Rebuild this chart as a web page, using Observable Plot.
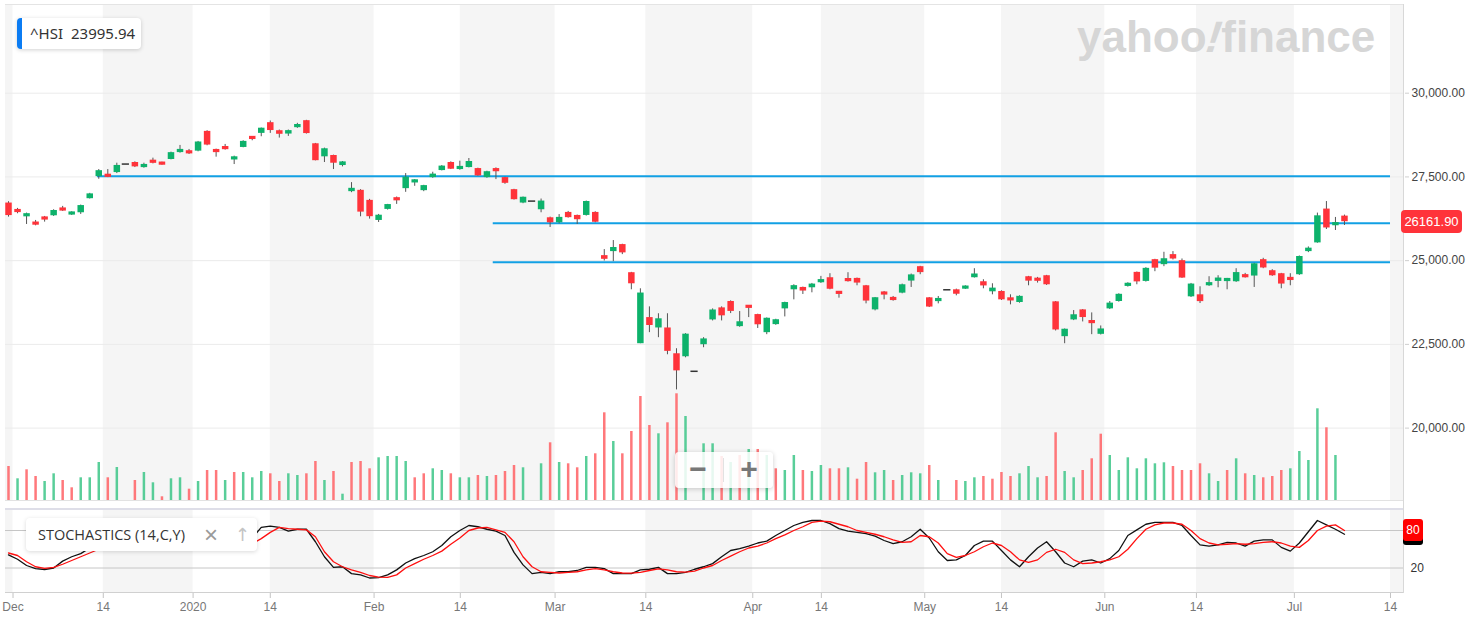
<!DOCTYPE html>
<html><head><meta charset="utf-8">
<script src="https://cdn.jsdelivr.net/npm/d3@7"></script>
<script src="https://cdn.jsdelivr.net/npm/@observablehq/plot@0.6"></script>
<style>
body{margin:0;background:#fff;}
#chart{position:relative;width:1473px;height:627px;overflow:hidden;font-family:"Liberation Sans",Arial,sans-serif;background:#fff;}
#chart svg{position:absolute;left:0;top:0;max-width:none;}
.ov{position:absolute;box-sizing:border-box;}
</style></head><body><div id="chart"></div>
<script>
// ---- data (trading-day index 0 = 29 Nov 2019 ... 148 = 9 Jul 2020); null open/high/low = missing bar
const open = [26720,26520,26320,26150,26300,26340,26560,26380,26430,26850,
27510,27560,27630,null,27930,27780,28000,27930,28020,28230,
28280,28270,28860,28320,28400,28020,28380,28690,28800,29120,
28880,28780,28980,29180,28490,28100,28140,27840,27060,27100,
26800,26200,26530,26880,27150,27330,27090,27480,27690,27930,
27720,27780,27750,27480,27750,27480,27120,26720,null,26520,
26280,26130,26440,26350,26350,26440,25150,25270,25480,24640,
22520,23300,22990,22990,22220,22130,null,22490,23230,23590,
23780,23030,23640,23390,22850,23090,23560,24130,24200,24190,
24340,24490,24070,24460,24470,24250,23530,24060,23880,24030,
24390,24820,23890,23780,null,24130,24160,24490,24370,24070,
24080,23890,23750,24520,24460,24550,23770,22730,23230,23530,
23200,22800,23560,23780,24230,24650,24380,25030,24880,25180,
25000,23920,23980,24250,24380,24380,24370,24560,24540,25030,
24700,24610,24480,24580,25270,25530,26540,26050,26330];
const high = [26760,26560,26420,26200,26320,26520,26620,26460,26660,27010,
27720,27720,27910,null,27950,27910,28060,27940,28240,28440,
28320,28560,28880,28330,28470,28120,28580,28700,28960,29170,
28900,28900,29100,29190,28500,28360,28150,27960,27330,27120,
26830,26380,26680,26900,27600,27420,27250,27640,27840,27950,
27970,28050,27760,27670,27770,27490,27130,26900,null,26840,
26300,26376,26470,26360,26780,26460,25330,25600,25490,24650,
24160,23620,23414,23414,22370,22820,null,22700,23560,23620,
23800,23480,23660,23400,23290,23250,23760,24280,24210,24320,
24530,24610,24080,24640,24480,24260,23900,24080,23930,24300,
24600,24830,23900,23930,null,24150,24250,24760,24430,24310,
24100,23980,23950,24530,24500,24560,23780,22960,23510,23540,
23440,23050,23780,24010,24340,24660,24790,25040,25250,25270,
25050,24320,24220,24520,24550,24470,24760,24620,24920,25070,
24730,24620,24610,25140,25410,26420,26765,26290,26360];
const low = [26300,26400,26080,26040,26150,26320,26470,26350,26380,26840,
27430,27480,27600,null,27780,27760,27890,27850,28010,28210,
28170,28250,28430,28090,28300,27870,28370,28580,28700,28800,
28660,28710,28950,28780,27980,27930,27720,27800,27030,26310,
26240,26140,26510,26680,27040,27220,27060,27460,27680,27720,
27700,27770,27520,27460,27420,27280,26810,26700,null,26430,
25990,26100,26270,26080,26330,26130,24990,24970,25180,24130,
22520,22850,22700,22190,21140,22100,null,22400,23200,23200,
23420,23010,23300,22975,22790,23070,23320,23830,23990,24040,
24320,24130,23880,24360,24250,23710,23500,23830,23790,24010,
24200,24580,23600,23710,null,23950,24140,24480,24160,23980,
23810,23680,23730,24250,24330,24260,22900,22520,23210,23170,
22790,22780,23540,23760,24210,24280,24360,24670,24820,25020,
24470,23900,23720,24230,24190,24130,24350,24480,24200,24760,
24530,24160,24250,24560,25240,25520,25930,25900,26050];
const close = [26346,26444,26391,26062,26218,26498,26494,26436,26645,26994,
27687,27508,27843,27884,27800,27871,27906,27864,28225,28319,
28190,28543,28451,28226,28322,28087,28561,28638,28955,28885,
28773,28883,29056,28795,27985,28341,27909,27949,27160,26449,
26313,26357,26675,26786,27493,27404,27241,27584,27823,27730,
27815,27960,27530,27656,27655,27309,26820,26893,26778,26779,
26130,26292,26284,26222,26767,26146,25040,25392,25232,24309,
24033,23064,23264,22291,21709,22805,21696,22663,23527,23352,
23484,23175,23603,23085,23280,23236,23749,24254,24092,24300,
24435,24146,24006,24380,24330,23793,23893,23977,23831,24280,
24575,24643,23614,23868,24130,23997,24230,24602,24245,24180,
23830,23797,23934,24388,24400,24280,22930,22952,23384,23301,
23132,22961,23732,23995,24325,24366,24770,24776,25057,25049,
24480,24301,23777,24344,24481,24464,24644,24511,24907,24781,
24549,24301,24427,25124,25373,26339,25976,26129,26161.9];
const prevClose = 26894; // close before the first bar
const volume = [1360,868,1228,960,760,1068,800,508,908,908,
1520,908,1320,null,800,1120,708,148,868,908,
452,760,1200,1200,800,1120,1120,908,1160,1068,
760,1068,1000,1068,1560,800,1160,252,1520,1560,
1268,1708,1760,1760,1560,908,1068,1268,1200,1068,
908,908,1000,960,1000,1160,1400,1308,null,1468,
2308,1520,1468,1308,1760,1868,3508,2360,1868,2760,
4160,3000,2668,3108,4268,3360,null,2268,2268,1760,
1520,1800,2040,2040,1800,1268,1200,1800,1200,1160,
1400,1268,1268,1308,852,1520,1108,1200,800,1000,
1108,1068,1400,800,null,800,760,908,960,852,
1120,960,1068,1360,908,960,2708,1160,908,1200,
1668,2652,1800,1200,1708,1268,1668,1468,1508,1360,
1200,1200,1468,1068,760,1200,1668,1068,1000,908,
960,1200,1268,1960,1600,3668,2908,1800,null];
const stochK = [41,34,24,19,17.6,20,31,38,43,52,
68,70,80,84,80,83,85,83,90,92,
88,92,85,70,55,50,58,68,85,87,
85,79,82,82,62,38,21,22,11,9,
4,4.5,9,17,28,35,40,46,56,70,
80,88,86,82,79,72,45,25,11,13,
11,14,14,16,21,21,19,11,11,11,
17,18,21,11,11,13,18,22,27,38,
48,51,55,60,63,72,80,88,93,96,
96,91,83,79,77,75,71,64,59,62,
70,82,68,46,32,33,40,56,63,63,
48,33,22,38,52,62,46,28,22,31,
33,28,35,48,72,81,90,93,93,93,
88,72,57,55,57,61,60,55,63,65,
65,53,47,60,78,96,89,82,74];
const stochD = [44,40,30,22,19.5,21,26,32,38,44,
50,58,67,75,80,82,82,83,85,88,
90,90,88,82,70,58,54,59,67,77,
85,83,82,81,70,46,30,22,17,13,
8,5.5,5,9,20,27,34,40,47,58,
68,80,84,85,81,77,62,38,22,14,
13,12,13,14,17,19,17,14,12,11.7,
13,16,18.7,17,14,13.5,15,20,24,32,
39,46,52,55,60,67,73,80,86,93,
95,94,90,86,80,77,74,70,65,61,
62,72,70,60,43,37,40,46,54,60,
56,46,33,29,33,45,50,45,33,27,
28,30,33,38,50,67,82,89,92,92,
90,80,67,60,57,58,59,58,59,61,
62,60,55,53,64,80,87,89,80];
const tickLabels = ["Dec","14","2020","14","Feb","14","Mar","14","Apr","14","May","14","Jun","14","Jul","14"];
const tickPositions = [0.5,10.5,20.45,29,40.5,50.05,60.55,70.6,82.45,90.05,101.5,110,121.45,131.6,142.45,153.1];
const priceTicks = [20000,22500,25000,27500,30000];
const stochLevels = [20,80];
const stochLabelTicks = [20];
const levelPrices = [27520,26117,24950];
const levelStart = [9.85,53.7,53.7];
const levelEnd = [153.1,153.1,153.1];
const quoteSymbol = "^HSI", quoteValue = "23995.94";
const stochName = "STOCHASTICS (14,C,Y)";

// ---- build
const W = 1473, H = 627;
const xDomain = [-0.333, 154.65];
const GREEN = "#0db26b", RED = "#ff333a";
const rows = close.map((c, i) => ({i, o: open[i], h: high[i], l: low[i], c, v: volume[i], k: stochK[i], d: stochD[i],
  up: c >= (i ? close[i - 1] : prevClose)}));
const candles = rows.filter(r => r.o != null);
const dashes = rows.filter(r => r.o == null);
const minBody = 95;
const bodyHi = d => { const a = Math.max(d.o, d.c), b = Math.min(d.o, d.c); return a - b < minBody ? (a + b) / 2 + minBody / 2 : a; };
const bodyLo = d => { const a = Math.max(d.o, d.c), b = Math.min(d.o, d.c); return a - b < minBody ? (a + b) / 2 - minBody / 2 : b; };
const bounds = [xDomain[0], ...tickPositions, xDomain[1]];
const bands = d3.range(bounds.length - 1).filter(k => k % 2 === 0).map(k => ({a: bounds[k], b: bounds[k + 1]}));
const levels = levelPrices.map((p, j) => ({p, a: levelStart[j], b: levelEnd[j]}));
const labelAt = new Map(tickPositions.map((p, j) => [p, tickLabels[j]]));
const style = {background: "transparent", fontFamily: "'Liberation Sans', Arial, sans-serif", fontSize: "12px", overflow: "visible"};
const common = {width: W, height: H, marginLeft: 5, marginRight: 69, style};

const price = Plot.plot({...common, marginTop: 5, marginBottom: 127,
  x: {domain: xDomain, axis: null},
  y: {domain: [20000, 30000], range: [427.6, 92.7]},
  marks: [
    Plot.rect(bands, {x1: "a", x2: "b", fill: "#f5f5f5"}),
    Plot.ruleY(priceTicks, {stroke: "#ebebeb"}),
    Plot.ruleY(levels, {y: "p", x1: "a", x2: "b", stroke: "#12a0e4", strokeWidth: 2}),
    Plot.ruleX(candles, {x: "i", y1: "l", y2: "h", stroke: "#555", strokeWidth: 1}),
    Plot.ruleX(candles, {x: "i", y1: bodyLo, y2: bodyHi, stroke: d => d.c >= d.o ? GREEN : RED, strokeWidth: 6.5}),
    Plot.ruleY(dashes, {y: "c", x1: d => d.i - 0.4, x2: d => d.i + 0.4, stroke: "#333", strokeWidth: 1.5}),
    Plot.axisY({anchor: "right", ticks: priceTicks, tickFormat: d3.format(",.2f"), tickSize: 4, tickPadding: 3,
      fontSize: 12, stroke: "#cfcfcf", fill: "#444", label: null})
  ]
});
const vol = Plot.plot({...common, marginTop: 5, marginBottom: 127,
  x: {domain: xDomain, axis: null},
  y: {domain: [0, 4000], range: [500, 400], axis: null},
  marks: [
    Plot.ruleX(rows.filter(r => r.v != null), {x: "i", y1: 0, y2: "v", stroke: d => d.up ? "#3cc587" : "#ff6064",
      strokeWidth: 2.5, strokeOpacity: 0.85})
  ]
});
const stoch = Plot.plot({...common, marginTop: 510, marginBottom: 35,
  x: {domain: xDomain},
  y: {domain: [20, 80], range: [567.5, 530]},
  marks: [
    Plot.rect(bands, {x1: "a", x2: "b", fill: "#f5f5f5"}),
    Plot.ruleY(stochLevels, {stroke: "#c6c6c6"}),
    Plot.line(rows, {x: "i", y: "k", stroke: "#111", strokeWidth: 1.3}),
    Plot.line(rows, {x: "i", y: "d", stroke: "#ff1010", strokeWidth: 1.3}),
    Plot.axisX({anchor: "bottom", ticks: tickPositions, tickFormat: d => labelAt.get(d), tickSize: 6, tickPadding: 4,
      fontSize: 12, stroke: "#c4c4c4", fill: "#777", label: null}),
    Plot.axisY({anchor: "right", ticks: stochLabelTicks, tickSize: 0, tickPadding: 6, fontSize: 12, fill: "#333", label: null})
  ]
});
const root = document.getElementById("chart");
root.append(price, vol, stoch);

function ov(css, html) {
  const d = document.createElement("div");
  d.className = "ov"; d.style.cssText = css; if (html != null) d.innerHTML = html; root.append(d); return d;
}
// frame lines
ov("left:5px;top:4px;width:1399px;height:1px;background:#e4e4e4;");
ov("left:5px;top:500px;width:1399px;height:1px;background:#e2e2e2;");
ov("left:5px;top:508px;width:1399px;height:2px;background:#dedee8;");
ov("left:5px;top:592px;width:1399px;height:1px;background:#d0d0d0;");
ov("left:1403px;top:4px;width:1px;height:589px;background:#d8d8d8;");
// yahoo finance watermark
ov("left:1077px;top:15px;font:bold 44px 'Liberation Sans',Arial,sans-serif;color:#d6d6d6;letter-spacing:0px;line-height:44px;white-space:nowrap;",
   "yahoo<span style='display:inline-block;transform:skewX(-18deg);'>!</span>finance");
// quote tooltip
ov("left:17px;top:18px;height:31px;padding:0 6px 0 8px;background:#fff;border-left:5px solid #0b7cf3;border-radius:4px;box-shadow:0 1px 4px rgba(0,0,0,0.18);font:15px 'Noto Sans',sans-serif;color:#333;line-height:31px;white-space:nowrap;",
   quoteSymbol + "<span style='display:inline-block;width:8px'></span>" + quoteValue);
// zoom control
ov("left:675px;top:452px;width:98px;height:36px;background:rgba(255,255,255,0.85);border-radius:4px;box-shadow:0 1px 5px rgba(0,0,0,0.2);");
ov("left:686px;top:452px;width:24px;height:36px;font:bold 30px 'Liberation Sans',Arial;color:#777;text-align:center;line-height:34px;", "&minus;");
ov("left:737px;top:452px;width:24px;height:36px;font:bold 30px 'Liberation Sans',Arial;color:#777;text-align:center;line-height:34px;", "+");
ov("left:723px;top:458px;width:1px;height:24px;background:#e2e2e2;");
// last price tag
const yP = price.scale("y").apply(close[close.length - 1]);
ov(`left:1401px;top:${yP - 11.5}px;width:61px;height:23px;background:#ff333a;border-radius:4px;color:#fff;font:13px 'Liberation Sans',Arial;text-align:center;line-height:23px;`,
   d3.format(".2f")(close[close.length - 1]));
// stochastics value tags
const yS = stoch.scale("y");
const kLast = stochK[stochK.length - 1], dLast = stochD[stochD.length - 1];
ov(`left:1403px;top:${yS.apply(kLast) - 11}px;width:20px;height:22px;background:#000;border-radius:3px;`);
ov(`left:1403px;top:${yS.apply(dLast) - 11}px;width:20px;height:22px;background:#ff0000;border-radius:3px;color:#fff;font:12px 'Liberation Sans',Arial;text-align:center;line-height:22px;`,
   String(Math.round(dLast)));
// stochastics legend
ov("left:26px;top:518px;width:231px;height:33px;background:#fff;border-radius:4px;box-shadow:0 1px 4px rgba(0,0,0,0.15);");
ov("left:38px;top:518px;height:33px;font:500 14.5px 'Open Sans',sans-serif;color:#333;line-height:33px;white-space:nowrap;", stochName);
ov("left:204px;top:518px;height:33px;font:24px 'Liberation Sans',Arial;color:#9a9a9a;line-height:33px;", "&times;");
ov("left:235px;top:518px;height:33px;font:18px 'DejaVu Sans',sans-serif;color:#c4c4c4;line-height:33px;", "&uarr;");
</script></body></html>
